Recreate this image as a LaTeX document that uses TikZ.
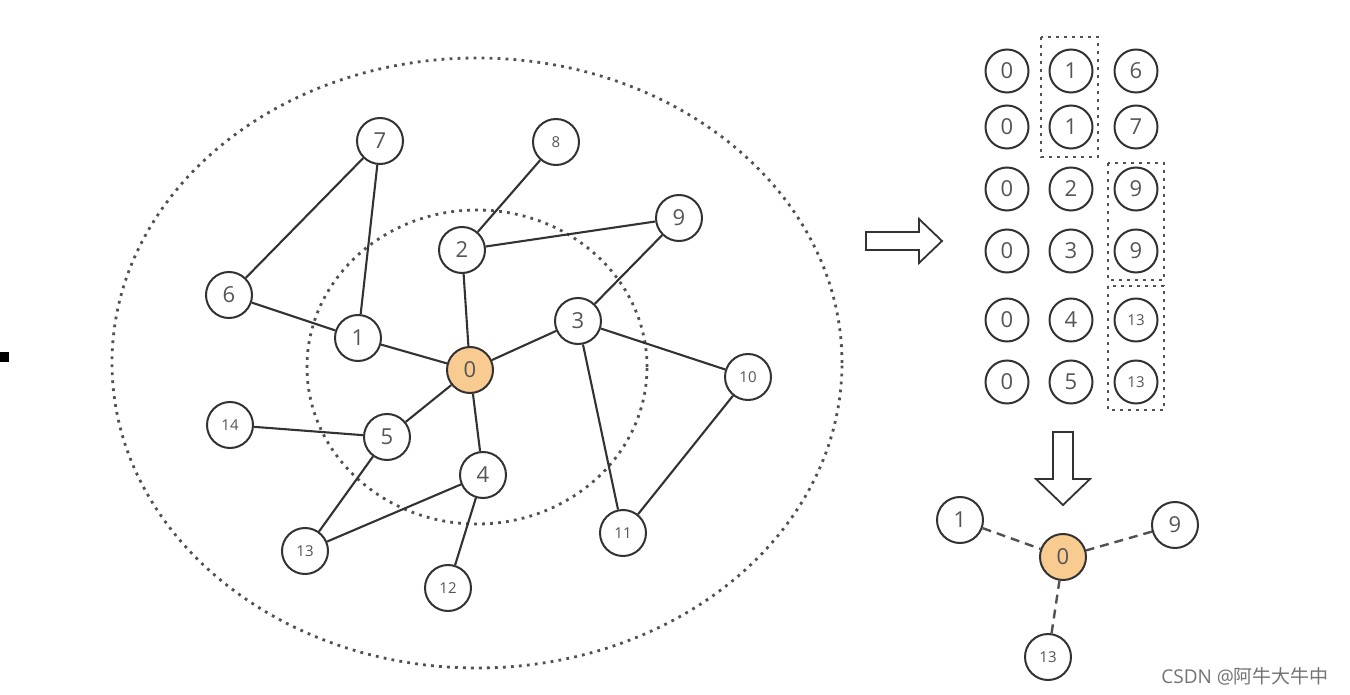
\documentclass[tikz,border=0pt]{standalone}
\usepackage{fontspec}
\setsansfont{Open Sans}
\newfontfamily\cjk{Noto Sans CJK SC}
\definecolor{edgec}{RGB}{50,50,50}
\definecolor{txtc}{RGB}{85,85,85}
\definecolor{orng}{RGB}{248,203,145}
\begin{document}
\begin{tikzpicture}[x=0.5pt,y=-0.5pt,
  vtx/.style={circle,draw=edgec,line width=1pt,fill=white,minimum size=23pt,inner sep=0pt,font=\sffamily\fontsize{11}{11}\selectfont,text=txtc},
  sm/.style={font=\sffamily\fontsize{7.5}{8}\selectfont},
  mv/.style={vtx,minimum size=21.5pt},
  hot/.style={fill=orng},
  edge/.style={draw=edgec,line width=1.05pt},
  dedge/.style={draw=edgec!85,line width=1.2pt,dash pattern=on 4.5pt off 3pt},
  dots/.style={draw=edgec!85,line width=1.4pt,dash pattern=on 1.4pt off 2.6pt},
  hollow/.style={draw=edgec,line width=0.9pt,fill=white,line join=miter}]
\useasboundingbox (0,0) rectangle (1350,695);
% left mark
\fill[black] (0,352) rectangle (9,362);
% dotted circles
\draw[dots] (477,363) ellipse [x radius=182.5pt, y radius=152.5pt];
\draw[dots] (477,367) ellipse [x radius=85pt, y radius=78.5pt];
% nodes
\node[vtx,hot] (n0) at (470,370) {0};
\node[vtx] (n1) at (358,338) {1};
\node[vtx] (n2) at (462,250) {2};
\node[vtx] (n3) at (578,321) {3};
\node[vtx] (n4) at (483,475) {4};
\node[vtx] (n5) at (387,437) {5};
\node[vtx] (n6) at (229,295) {6};
\node[vtx] (n7) at (380,141) {7};
\node[vtx,sm] (n8) at (556,142) {8};
\node[vtx] (n9) at (679,218) {9};
\node[vtx,sm] (n10) at (748,377) {10};
\node[vtx,sm] (n11) at (623,533) {11};
\node[vtx,sm] (n12) at (448,588) {12};
\node[vtx,sm] (n13) at (305,551) {13};
\node[vtx,sm] (n14) at (230,425) {14};
% edges
\foreach \a/\b in {n7/n6,n7/n1,n6/n1,n1/n0,n8/n2,n2/n9,n2/n0,n9/n3,n0/n3,n3/n10,n3/n11,n10/n11,n0/n5,n0/n4,n14/n5,n5/n13,n13/n4,n4/n12}
  \draw[edge] (\a) -- (\b);
% right arrow
\draw[hollow] (866,232) -- (919,232) -- (919,219) -- (942,241) -- (919,263) -- (919,250) -- (866,250) -- cycle;
% matrix
\foreach \r/\y/\b in {1/71/1,2/127/1,3/189/2,4/251/3,5/320/4,6/382/5}{
  \node[mv] (m\r a) at (1007,\y) {0};
  \node[mv] (m\r b) at (1071,\y) {\b};
}
\node[mv] (m1c) at (1136,71) {6};
\node[mv] (m2c) at (1136,127) {7};
\node[mv] (m3c) at (1136,189) {9};
\node[mv] (m4c) at (1136,251) {9};
\node[mv,sm] (m5c) at (1136,320) {13};
\node[mv,sm] (m6c) at (1136,382) {13};
% dotted boxes
\draw[dots] (1041,37) rectangle (1098,157);
\draw[dots] (1108,163) rectangle (1164,280);
\draw[dots] (1108,286) rectangle (1164,410);
% down arrow
\draw[hollow] (1053,432) -- (1073,432) -- (1073,479) -- (1090,479) -- (1063,505) -- (1036,479) -- (1053,479) -- cycle;
% result graph
\node[vtx,hot] (r0) at (1063,557) {0};
\node[vtx] (r1) at (960,520) {1};
\node[vtx] (r9) at (1175,525) {9};
\node[vtx,sm] (r13) at (1048,657) {13};
\draw[dedge] (r1) -- (r0);
\draw[dedge] (r9) -- (r0);
\draw[dedge] (r13) -- (r0);
% watermark
\node[anchor=east,text=black!55,font=\sffamily\fontsize{9.5}{9.5}\selectfont] (wm) at (1336,676) {CSDN @{\cjk 阿牛大牛中}};
\end{tikzpicture}
\end{document}
